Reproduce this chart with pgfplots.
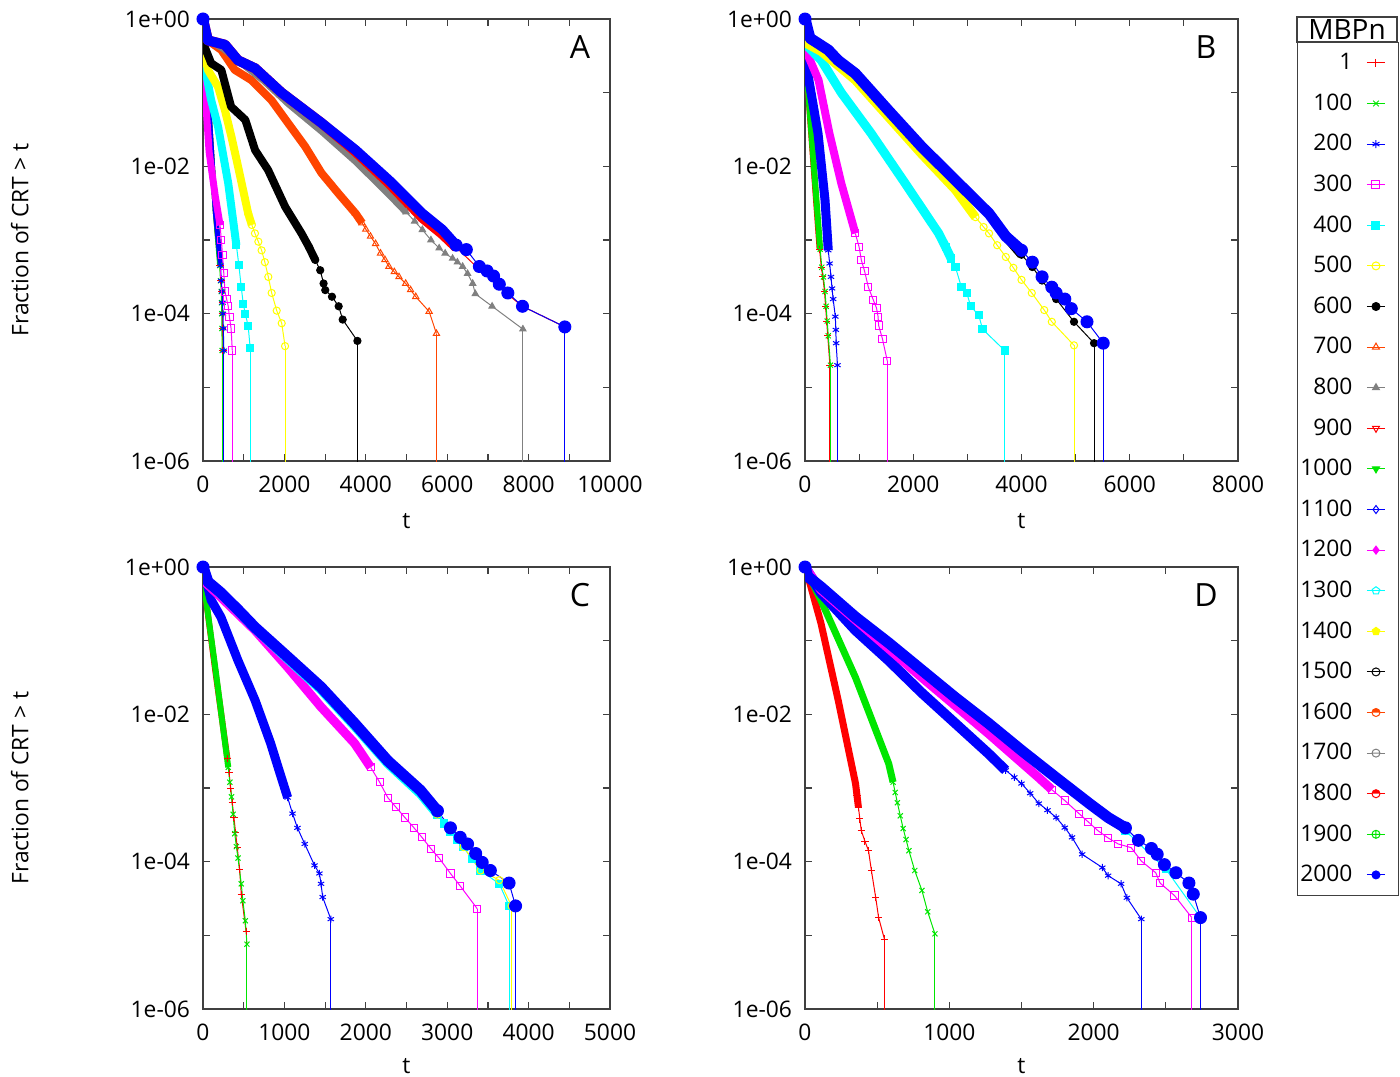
\documentclass[border=0pt]{standalone}
\usepackage{fontspec}
\setmainfont{Open Sans}
\usepackage{pgfplots}
\pgfplotsset{compat=1.18}
\usetikzlibrary{plotmarks}

\definecolor{cR}{RGB}{255,0,0}
\definecolor{cG}{RGB}{0,230,0}
\definecolor{cB}{RGB}{0,0,255}
\definecolor{cM}{RGB}{255,0,255}
\definecolor{cC}{RGB}{0,255,255}
\definecolor{cY}{RGB}{255,255,0}
\definecolor{cO}{RGB}{255,69,0}
\definecolor{cGr}{RGB}{128,128,128}

\newcommand\fs{\fontsize{11.4}{13.5}\selectfont}
\newcommand\ft{\fontsize{14}{16}\selectfont}
\newcommand\fl{\fontsize{16}{19}\selectfont}

\pgfplotsset{
  s1/.style={color=cR, mark=+},
  s100/.style={color=cG, mark=x},
  s200/.style={color=cB, mark=asterisk},
  s300/.style={color=cM, mark=square},
  s400/.style={color=cC, mark=square*},
  s500/.style={color=cY, mark=o},
  s600/.style={color=black, mark=*},
  s700/.style={color=cO, mark=triangle},
  s800/.style={color=cGr, mark=triangle*},
  s900/.style={color=cR, mark=triangle, every mark/.append style={rotate=180}},
  s1000/.style={color=cG, mark=triangle*, every mark/.append style={rotate=180}},
  s1100/.style={color=cB, mark=diamond},
  s1200/.style={color=cM, mark=diamond*},
  s1300/.style={color=cC, mark=pentagon},
  s1400/.style={color=cY, mark=pentagon*},
  s1500/.style={color=black, mark=o},
  s1600/.style={color=cO, mark=halfcircle*},
  s1700/.style={color=cGr, mark=halfcircle},
  s1800/.style={color=cR, mark=halfcircle*},
  s1900/.style={color=cG, mark=oplus},
  s2000/.style={color=cB, mark=*},
  band/.style={line width=#1, mark=none, line join=round, forget plot},
  tail/.style={line width=0.5pt, mark size=1.8pt, mark options={solid, line width=0.5pt}, forget plot},
  bigtail/.style={line width=0.5pt, mark size=3pt, mark options={solid, line width=0.5pt}, forget plot},
  drop/.style={line width=0.5pt, mark=none, forget plot},
  panelstyle/.style={
    scale only axis, height=221pt,
    ymin=1e-6, ymax=1, xmin=0,
    ytick={1,1e-2,1e-4,1e-6},
    yticklabels={1e+00,1e-02,1e-04,1e-06},
    minor ytick={1e-1,1e-3,1e-5},
    scaled x ticks=false,
    tick align=inside,
    major tick length=3.5pt, minor tick length=3.5pt,
    axis line style={black!75, line width=0.6pt},
    every tick/.style={black!75, line width=0.6pt},
    tick label style={font=\fs},
    label style={font=\fs},
    xlabel={t},
    xlabel style={at={(axis description cs:0.5,-0.136)}, anchor=center},
    ylabel style={at={(axis description cs:-0.45,0.5)}, anchor=center},
    xticklabel style={yshift=-4pt},
    yticklabel style={xshift=-3pt},
  },
}

\begin{document}
\begin{tikzpicture}
\useasboundingbox (0,0) rectangle (700pt,-538pt);

% ---------------- A ----------------
\begin{axis}[ymode=log, panelstyle, at={(101.5pt,-9.5pt)}, anchor=north west, width=203.5pt,
  xmax=10000, xtick={0,2000,4000,6000,8000,10000},
  xticklabels={0,2000,4000,6000,8000,10000},
  minor xtick={1000,3000,5000,7000,9000},
  ylabel={Fraction of CRT > t}]
\addplot[s1,band=2.5pt] coordinates {(0,1)(100,0.158)(300,2.51e-3)(420,4.5e-4)};
\addplot[s1,tail] coordinates {(420,4.5e-4)(440,2.8e-4)(460,2.0e-4)(470,1.41e-4)(475,1e-4)(480,6.31e-5)(490,3.16e-5)};
\addplot[s1,drop] coordinates {(490,3.16e-5)(490,1e-8)};
\addplot[s100,band=2.5pt] coordinates {(0,1)(100,0.158)(300,2.51e-3)(410,4.5e-4)};
\addplot[s100,tail] coordinates {(410,4.5e-4)(430,2.8e-4)(450,2.0e-4)(455,1.41e-4)(460,1e-4)(465,6.31e-5)(470,3.16e-5)};
\addplot[s100,drop] coordinates {(470,3.16e-5)(470,1e-8)};
\addplot[s200,band=2.5pt] coordinates {(0,1)(100,0.158)(300,2.51e-3)(430,4.5e-4)};
\addplot[s200,tail] coordinates {(430,4.5e-4)(450,2.8e-4)(470,2.0e-4)(480,1.41e-4)(490,1e-4)(500,6.31e-5)(510,3.16e-5)};
\addplot[s200,drop] coordinates {(510,3.16e-5)(510,1e-8)};
\addplot[s300,band=3.5pt] coordinates {(0,1)(40,0.126)(150,0.0158)(300,3.98e-3)(420,1.58e-3)};
\addplot[s300,tail] coordinates {(420,1.58e-3)(450,1e-3)(480,6.3e-4)(510,3.6e-4)(540,2.0e-4)(580,1.58e-4)(620,1.26e-4)(650,8.91e-5)(690,6.31e-5)(720,3.16e-5)};
\addplot[s300,drop] coordinates {(720,3.16e-5)(720,1e-8)};
\addplot[s400,band=4pt] coordinates {(0,1)(30,0.251)(200,0.0794)(370,0.0347)(620,5.89e-3)(820,8.5e-4)};
\addplot[s400,tail] coordinates {(820,8.5e-4)(880,4.6e-4)(940,2.29e-4)(990,1.35e-4)(1040,1e-4)(1110,6.76e-5)(1160,3.39e-5)};
\addplot[s400,drop] coordinates {(1160,3.39e-5)(1160,1e-8)};
\addplot[s500,band=4pt] coordinates {(0,1)(20,0.398)(120,0.204)(370,0.120)(540,0.0575)(700,0.0251)(860,0.01)(1110,2.29e-3)(1200,1.6e-3)};
\addplot[s500,tail] coordinates {(1110,2.29e-3)(1200,1.6e-3)(1276,1.23e-3)(1360,9.5e-4)(1440,7.24e-4)(1520,5e-4)(1605,3.16e-4)(1687,1.91e-4)(1811,1.1e-4)(1934,7.41e-5)(2016,3.63e-5)};
\addplot[s500,drop] coordinates {(2016,3.63e-5)(2016,1e-8)};
\addplot[s600,band=4pt] coordinates {(0,1)(20,0.447)(200,0.251)(450,0.204)(690,0.0646)(1040,0.0427)(1280,0.0166)(1600,8.91e-3)(2020,2.82e-3)(2420,1.23e-3)(2600,8.1e-4)(2757,5.37e-4)};
\addplot[s600,tail] coordinates {(2600,8.1e-4)(2757,5.37e-4)(2880,3.89e-4)(2963,2.57e-4)(3004,2.09e-4)(3169,1.7e-4)(3333,1.26e-4)(3432,8.32e-5)(3794,4.27e-5)};
\addplot[s600,drop] coordinates {(3794,4.27e-5)(3794,1e-8)};
\addplot[s700,band=4pt] coordinates {(0,1)(20,0.562)(450,0.38)(780,0.204)(1190,0.148)(1680,0.0794)(2100,0.038)(2510,0.0186)(2910,8.13e-3)(3330,4.27e-3)(3750,2.29e-3)(3910,1.7e-3)};
\addplot[s700,tail] coordinates {(3750,2.29e-3)(3910,1.7e-3)(4000,1.4e-3)(4115,1.12e-3)(4240,8.9e-4)(4362,6.61e-4)(4470,5.4e-4)(4568,4.37e-4)(4700,3.7e-4)(4815,3.16e-4)(4980,2.57e-4)(5100,2.1e-4)(5227,1.7e-4)(5556,1.07e-4)(5736,5.37e-5)};
\addplot[s700,drop] coordinates {(5736,5.37e-5)(5736,1e-8)};
\addplot[s800,band=3.5pt] coordinates {(0,1)(20,0.562)(500,0.398)(1000,0.24)(1500,0.145)(2100,0.0708)(2910,0.0302)(3750,0.0117)(4570,4.17e-3)(4990,2.4e-3)};
\addplot[s800,tail] coordinates {(4990,2.4e-3)(5200,1.8e-3)(5390,1.38e-3)(5600,1.0e-3)(5802,7.76e-4)(5950,6.6e-4)(6132,5.62e-4)(6250,5.0e-4)(6379,4.37e-4)(6500,3.5e-4)(6626,2.57e-4)(6691,1.86e-4)(7103,1.26e-4)(7860,6.17e-5)};
\addplot[s800,drop] coordinates {(7860,6.17e-5)(7860,1e-8)};
\addplot[s900,band=5pt] coordinates {(0,1)(120,0.513)(540,0.447)(860,0.275)(1280,0.214)(1930,0.1)(2910,0.0389)(3750,0.0158)(4570,5.89e-3)(5390,2.0e-3)(5880,1.2e-3)(6220,7.94e-4)};
\addplot[s900,tail] coordinates {(6220,7.94e-4)(6790,3.98e-4)(7140,3.02e-4)(7490,1.82e-4)(7850,1.26e-4)(8890,6.61e-5)};
\addplot[s2000,band=5pt] coordinates {(0,1)(120,0.513)(540,0.447)(860,0.275)(1280,0.214)(1930,0.1)(2910,0.0389)(3750,0.0166)(4570,6.46e-3)(5390,2.29e-3)(5880,1.38e-3)(6220,8.51e-4)};
\addplot[s2000,bigtail] coordinates {(6220,8.51e-4)(6470,7.41e-4)(6790,4.37e-4)(6980,3.8e-4)(7140,3.24e-4)(7280,2.51e-4)(7490,1.91e-4)(7850,1.26e-4)(8890,6.61e-5)};
\addplot[s2000,drop] coordinates {(8890,6.61e-5)(8890,1e-8)};
\addplot[s2000,bigtail] coordinates {(0,1)};
\node[font=\fl] at (rel axis cs:0.926,0.937) {A};
\end{axis}

% ---------------- B ----------------
\begin{axis}[ymode=log, panelstyle, at={(402.5pt,-9.5pt)}, anchor=north west, width=216.5pt,
  xmax=8000, xtick={0,2000,4000,6000,8000},
  xticklabels={0,2000,4000,6000,8000},
  minor xtick={1000,3000,5000,7000},
  legend plot pos=right,
  legend image code/.code={\draw[mark repeat=2, mark phase=2] plot coordinates {(0pt,0pt)(4.5pt,0pt)(9pt,0pt)}; \path (15.5pt,0pt);},
  legend style={at={(axis description cs:1.136,0.948)}, anchor=north west,
    draw=black!75, line width=0.6pt, fill=white,
    inner sep=0pt, row sep=0pt, column sep=7pt,
    nodes={inner sep=0pt, text width=27.5pt, align=right, minimum height=20.3pt, font=\fs}}]
\addplot[s1,band=3pt] coordinates {(0,1)(10,0.316)(270,7.5e-4)};
\addplot[s1,tail] coordinates {(270,7.5e-4)(300,4.27e-4)(330,3.16e-4)(360,2e-4)(380,1.26e-4)(400,7.94e-5)(420,5.01e-5)(460,2e-5)};
\addplot[s1,drop] coordinates {(460,2e-5)(460,1e-8)};
\addplot[s100,band=3pt] coordinates {(0,1)(10,0.316)(280,7.5e-4)};
\addplot[s100,tail] coordinates {(280,7.5e-4)(310,4.27e-4)(340,3.16e-4)(370,2e-4)(390,1.26e-4)(410,7.94e-5)(430,5.01e-5)(470,2e-5)};
\addplot[s100,drop] coordinates {(470,2e-5)(470,1e-8)};
\addplot[s200,band=4.5pt] coordinates {(0,1)(10,0.398)(60,0.166)(240,0.0282)(370,3.47e-3)(430,7.24e-4)};
\addplot[s200,tail] coordinates {(400,1.8e-3)(430,7.24e-4)(455,4.8e-4)(480,3.16e-4)(500,2.2e-4)(520,1.58e-4)(560,9.12e-5)(570,6.03e-5)(575,3.98e-5)(600,2e-5)};
\addplot[s200,drop] coordinates {(600,2e-5)(600,1e-8)};
\addplot[s300,band=4pt] coordinates {(0,1)(30,0.355)(250,0.148)(450,0.0282)(670,5.89e-3)(930,1.23e-3)};
\addplot[s300,tail] coordinates {(930,1.23e-3)(1000,8e-4)(1040,5.37e-4)(1100,3.8e-4)(1170,2.29e-4)(1260,1.55e-4)(1320,1.2e-4)(1350,9.12e-5)(1360,6.92e-5)(1430,4.57e-5)(1520,2.29e-5)};
\addplot[s300,drop] coordinates {(1520,2.29e-5)(1520,1e-8)};
\addplot[s400,band=4.5pt] coordinates {(0,1)(20,0.447)(300,0.275)(670,0.1)(1220,0.0282)(1850,5.89e-3)(2470,1.23e-3)(2600,8e-4)(2700,5.6e-4)};
\addplot[s400,tail] coordinates {(2600,8e-4)(2700,5.6e-4)(2780,4.27e-4)(2890,2.29e-4)(2990,1.91e-4)(3060,1.26e-4)(3210,9.55e-5)(3280,6.17e-5)(3690,3.16e-5)};
\addplot[s400,drop] coordinates {(3690,3.16e-5)(3690,1e-8)};
\addplot[s500,band=4.5pt] coordinates {(0,1)(20,0.468)(300,0.363)(930,0.148)(1540,0.0468)(2150,0.0148)(2780,4.79e-3)(3150,2.04e-3)};
\addplot[s500,tail] coordinates {(3150,2.04e-3)(3300,1.5e-3)(3400,1.23e-3)(3550,8.5e-4)(3710,5.89e-4)(3850,4.2e-4)(4000,2.88e-4)(4190,1.91e-4)(4420,1.12e-4)(4560,7.76e-5)(4970,3.72e-5)};
\addplot[s500,drop] coordinates {(4970,3.72e-5)(4970,1e-8)};
\addplot[s600,band=4.5pt] coordinates {(0,1)(90,0.55)(240,0.468)(430,0.38)(610,0.275)(930,0.182)(1540,0.0575)(2150,0.0186)(2780,6.46e-3)(3400,2.29e-3)(3710,1.12e-3)(4000,6.31e-4)};
\addplot[s600,tail] coordinates {(4000,6.31e-4)(4200,4.3e-4)(4380,2.82e-4)(4640,1.58e-4)(4970,7.76e-5)(5340,3.98e-5)};
\addplot[s600,drop] coordinates {(5340,3.98e-5)(5340,1e-8)};
\addplot[s2000,band=5.5pt] coordinates {(0,1)(90,0.55)(240,0.468)(430,0.38)(610,0.275)(930,0.182)(1540,0.0575)(2150,0.0186)(2780,6.46e-3)(3400,2.29e-3)(3710,1.12e-3)(4000,7.24e-4)};
\addplot[s2000,bigtail] coordinates {(4000,7.24e-4)(4200,5.0e-4)(4380,3.16e-4)(4560,2.29e-4)(4640,1.91e-4)(4800,1.58e-4)(4920,1.17e-4)(5210,7.76e-5)(5510,3.98e-5)};
\addplot[s2000,drop] coordinates {(5510,3.98e-5)(5510,1e-8)};
\addplot[s2000,bigtail] coordinates {(0,1)};
\node[font=\fl] at (rel axis cs:0.926,0.937) {B};
\addlegendimage{s1, line width=0.5pt, mark size=2pt}
\addlegendimage{s100, line width=0.5pt, mark size=2pt}
\addlegendimage{s200, line width=0.5pt, mark size=2pt}
\addlegendimage{s300, line width=0.5pt, mark size=2pt}
\addlegendimage{s400, line width=0.5pt, mark size=2pt}
\addlegendimage{s500, line width=0.5pt, mark size=2pt}
\addlegendimage{s600, line width=0.5pt, mark size=2pt}
\addlegendimage{s700, line width=0.5pt, mark size=2pt}
\addlegendimage{s800, line width=0.5pt, mark size=2pt}
\addlegendimage{s900, line width=0.5pt, mark size=2pt}
\addlegendimage{s1000, line width=0.5pt, mark size=2pt}
\addlegendimage{s1100, line width=0.5pt, mark size=2pt}
\addlegendimage{s1200, line width=0.5pt, mark size=2pt}
\addlegendimage{s1300, line width=0.5pt, mark size=2pt}
\addlegendimage{s1400, line width=0.5pt, mark size=2pt}
\addlegendimage{s1500, line width=0.5pt, mark size=2pt}
\addlegendimage{s1600, line width=0.5pt, mark size=2pt}
\addlegendimage{s1700, line width=0.5pt, mark size=2pt}
\addlegendimage{s1800, line width=0.5pt, mark size=2pt}
\addlegendimage{s1900, line width=0.5pt, mark size=2pt}
\addlegendimage{s2000, line width=0.5pt, mark size=2pt}
\legend{1,100,200,300,400,500,600,700,800,900,1000,1100,1200,1300,1400,1500,1600,1700,1800,1900,2000}
\end{axis}

% ---------------- C ----------------
\begin{axis}[ymode=log, panelstyle, at={(101.5pt,-283.5pt)}, anchor=north west, width=203.5pt,
  xmax=5000, xtick={0,1000,2000,3000,4000,5000},
  xticklabels={0,1000,2000,3000,4000,5000},
  minor xtick={500,1500,2500,3500,4500},
  xlabel style={at={(axis description cs:0.5,-0.128)}, anchor=center},
  ylabel={Fraction of CRT > t}]
\addplot[s1,band=3pt] coordinates {(0,1)(20,0.501)(150,0.0398)(300,2.5e-3)};
\addplot[s1,tail] coordinates {(300,2.5e-3)(320,1.6e-3)(340,1e-3)(360,6.3e-4)(380,3.98e-4)(400,2.5e-4)(420,1.58e-4)(450,7.94e-5)(470,3.63e-5)(530,1.12e-5)};
\addplot[s1,drop] coordinates {(530,1.12e-5)(530,1e-8)};
\addplot[s100,band=3pt] coordinates {(0,1)(20,0.501)(150,0.0437)(310,1.91e-3)};
\addplot[s100,tail] coordinates {(310,1.91e-3)(330,1.2e-3)(350,7.6e-4)(370,4.4e-4)(390,2.4e-4)(410,1.6e-4)(430,1.12e-4)(470,5.01e-5)(490,2.95e-5)(520,1.58e-5)(540,7.59e-6)};
\addplot[s100,drop] coordinates {(540,7.59e-6)(540,1e-8)};
\addplot[s200,band=4.5pt] coordinates {(0,1)(100,0.355)(220,0.209)(430,0.0537)(640,0.0155)(830,4.07e-3)(930,1.8e-3)(1040,7.41e-4)};
\addplot[s200,tail] coordinates {(990,1.15e-3)(1040,7.41e-4)(1100,4.5e-4)(1160,2.88e-4)(1250,1.74e-4)(1370,8.91e-5)(1430,6.92e-5)(1450,5.01e-5)(1470,3.31e-5)(1570,1.66e-5)};
\addplot[s200,drop] coordinates {(1570,1.66e-5)(1570,1e-8)};
\addplot[s300,band=4.5pt] coordinates {(0,1)(20,0.631)(220,0.389)(640,0.138)(1040,0.0437)(1450,0.0126)(1860,4.07e-3)(1960,2.8e-3)(2060,1.91e-3)};
\addplot[s300,tail] coordinates {(2060,1.91e-3)(2170,1.2e-3)(2270,7.41e-4)(2370,5.5e-4)(2480,3.98e-4)(2590,2.9e-4)(2690,2.14e-4)(2800,1.5e-4)(2900,1.12e-4)(3040,6.92e-5)(3160,4.68e-5)(3370,2.29e-5)};
\addplot[s300,drop] coordinates {(3370,2.29e-5)(3370,1e-8)};
\addplot[s400,band=4.5pt] coordinates {(0,1)(60,0.631)(220,0.427)(430,0.251)(640,0.145)(1040,0.0562)(1450,0.0214)(1860,6.92e-3)(2270,2.14e-3)(2670,8.32e-4)(2880,4.37e-4)};
\addplot[s400,tail] coordinates {(2880,4.37e-4)(2960,3.3e-4)(3040,2.51e-4)(3120,2.0e-4)(3200,1.58e-4)(3300,1.1e-4)(3410,7.59e-5)(3640,5.01e-5)(3760,2.51e-5)};
\addplot[s400,drop] coordinates {(3760,2.51e-5)(3760,1e-8)};
\addplot[s500,tail] coordinates {(2880,4.37e-4)(3200,1.58e-4)(3410,7.59e-5)(3640,5.62e-5)(3790,2.51e-5)};
\addplot[s500,drop] coordinates {(3790,2.51e-5)(3790,1e-8)};
\addplot[s2000,band=5.5pt] coordinates {(0,1)(60,0.631)(220,0.447)(430,0.263)(640,0.151)(1040,0.0603)(1450,0.0234)(1860,7.59e-3)(2270,2.34e-3)(2670,9.33e-4)(2880,4.9e-4)};
\addplot[s2000,bigtail] coordinates {(2880,4.9e-4)(3040,2.88e-4)(3160,2.14e-4)(3250,1.74e-4)(3350,1.29e-4)(3430,9.77e-5)(3530,7.59e-5)(3760,5.13e-5)(3840,2.51e-5)};
\addplot[s2000,drop] coordinates {(3840,2.51e-5)(3840,1e-8)};
\addplot[s2000,bigtail] coordinates {(0,1)};
\node[font=\fl] at (rel axis cs:0.926,0.937) {C};
\end{axis}

% ---------------- D ----------------
\begin{axis}[ymode=log, panelstyle, at={(402.5pt,-283.5pt)}, anchor=north west, width=216.5pt,
  xmax=3000, xtick={0,1000,2000,3000},
  xticklabels={0,1000,2000,3000},
  minor xtick={500,1500,2500},
  xlabel style={at={(axis description cs:0.5,-0.128)}, anchor=center}]
\addplot[s1,band=3.5pt] coordinates {(0,1)(10,0.891)(110,0.174)(230,0.0155)(350,1.15e-3)(370,5.5e-4)};
\addplot[s1,tail] coordinates {(360,8e-4)(370,5.5e-4)(380,3.8e-4)(390,2.63e-4)(415,1.9e-4)(440,1.41e-4)(460,7.59e-5)(490,3.24e-5)(510,1.74e-5)(550,8.91e-6)};
\addplot[s1,drop] coordinates {(550,8.91e-6)(550,1e-8)};
\addplot[s100,band=3.5pt] coordinates {(0,1)(110,0.355)(350,0.0316)(580,2.14e-3)(610,1.2e-3)};
\addplot[s100,tail] coordinates {(595,1.6e-3)(610,1.2e-3)(625,8.7e-4)(640,6.31e-4)(660,4.2e-4)(680,2.82e-4)(700,2.0e-4)(720,1.41e-4)(760,7.59e-5)(810,4.07e-5)(850,2.09e-5)(900,1.05e-5)};
\addplot[s100,drop] coordinates {(900,1.05e-5)(900,1e-8)};
\addplot[s200,band=5pt] coordinates {(0,1)(110,0.447)(350,0.138)(580,0.0537)(810,0.0195)(1040,7.59e-3)(1270,2.95e-3)(1390,1.74e-3)};
\addplot[s200,tail] coordinates {(1330,2.3e-3)(1390,1.74e-3)(1450,1.4e-3)(1500,1.15e-3)(1560,8.5e-4)(1620,6.17e-4)(1680,5.0e-4)(1740,3.98e-4)(1800,2.9e-4)(1850,2.14e-4)(1920,1.26e-4)(2060,8.32e-5)(2100,6.46e-5)(2190,5.01e-5)(2230,3.24e-5)(2330,1.66e-5)};
\addplot[s200,drop] coordinates {(2330,1.66e-5)(2330,1e-8)};
\addplot[s300,band=4.5pt] coordinates {(0,1)(110,0.49)(350,0.191)(810,0.0316)(1270,5.5e-3)(1620,1.38e-3)(1710,9.5e-4)};
\addplot[s300,tail] coordinates {(1710,9.5e-4)(1800,6.76e-4)(1900,4.47e-4)(1960,3.5e-4)(2030,2.63e-4)(2100,2.1e-4)(2170,1.74e-4)(2260,1.55e-4)(2330,1.02e-4)(2430,7.08e-5)(2460,5.13e-5)(2560,3.47e-5)(2680,1.74e-5)};
\addplot[s300,drop] coordinates {(2680,1.74e-5)(2680,1e-8)};
\addplot[s400,band=2pt] coordinates {(0,1)(110,0.525)(350,0.204)(810,0.038)(1270,7.08e-3)(1740,1.32e-3)(2100,3.8e-4)(2220,2.63e-4)};
\addplot[s400,tail] coordinates {(2220,2.63e-4)(2500,7.94e-5)(2740,1.74e-5)};
\addplot[s2000,band=5.5pt] coordinates {(0,1)(20,0.741)(110,0.537)(350,0.209)(580,0.0933)(810,0.0398)(1040,0.017)(1270,7.59e-3)(1500,3.24e-3)(1740,1.38e-3)(1970,6.17e-4)(2100,3.98e-4)(2220,2.88e-4)};
\addplot[s2000,bigtail] coordinates {(2220,2.88e-4)(2310,1.95e-4)(2400,1.51e-4)(2440,1.26e-4)(2490,9.12e-5)(2570,7.08e-5)(2660,5.13e-5)(2690,3.63e-5)(2740,1.74e-5)};
\addplot[s2000,drop] coordinates {(2740,1.74e-5)(2740,1e-8)};
\addplot[s2000,bigtail] coordinates {(0,1)};
\node[font=\fl] at (rel axis cs:0.926,0.937) {D};
\end{axis}

% legend title box
\draw[black!75, line width=0.6pt] (648.5pt,-8.5pt) rectangle (698.5pt,-21pt);
\node[font=\ft] at (673.5pt,-14.75pt) {MBPn};
\end{tikzpicture}
\end{document}
